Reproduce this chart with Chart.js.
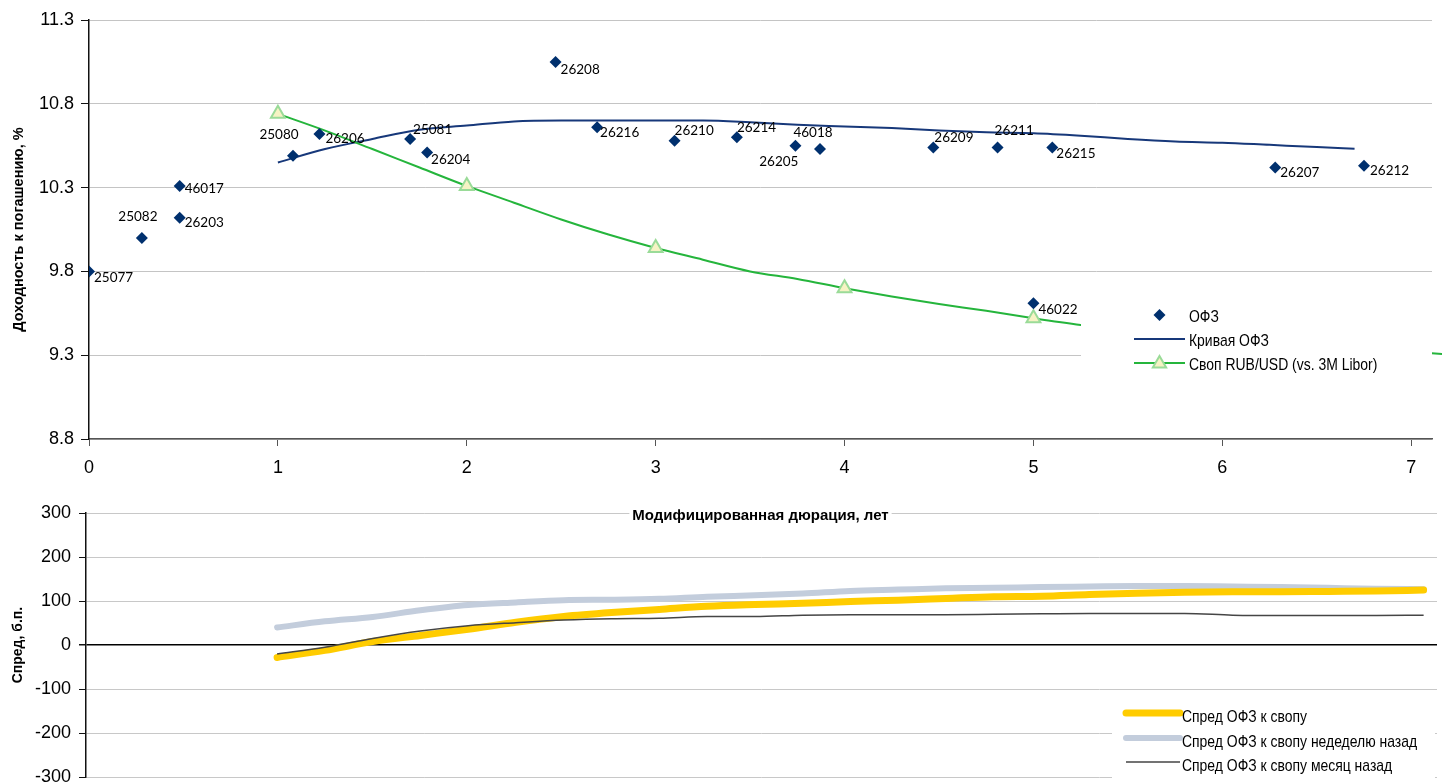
<!DOCTYPE html>
<html>
<head>
<meta charset="utf-8">
<script src="https://cdn.jsdelivr.net/npm/chart.js@4.4.1/dist/chart.umd.min.js"></script>
<style>
  html, body { margin: 0; padding: 0; background: #fff; }
  #wrap { position: relative; width: 1442px; height: 782px; overflow: hidden; }
  #bottomWrap { position: absolute; left: 0; top: 490px; width: 1442px; height: 306px; }
  #topWrap { position: absolute; left: 0; top: 0; width: 1442px; height: 530px; }
</style>
</head>
<body>
<div id="wrap">
  <div id="bottomWrap"><canvas id="spreadChart" width="1442" height="306"></canvas></div>
  <div id="topWrap"><canvas id="yieldChart" width="1442" height="530"></canvas></div>
</div>
<script>
// ---- data ----
const ofzNames = ["25077", "25082", "46017", "26203", "25080", "26206", "25081", "26204", "26208", "26216",
                  "26210", "26214", "26205", "46018", "26209", "26211", "26215", "26207", "26212", "46022"];
const ofzDuration = [0.00, 0.28, 0.48, 0.48, 1.08, 1.22, 1.70, 1.79, 2.47, 2.69,
                     3.10, 3.43, 3.74, 3.87, 4.47, 4.81, 5.10, 6.28, 6.75, 5.00];
const ofzYield = [9.80, 10.00, 10.31, 10.12, 10.49, 10.62, 10.59, 10.51, 11.05, 10.66,
                  10.58, 10.60, 10.55, 10.53, 10.54, 10.54, 10.54, 10.42, 10.43, 9.61];

const curveDuration = [1.00, 1.25, 1.50, 1.75, 2.00, 2.25, 2.50, 2.75, 3.00, 3.25, 3.50, 3.75,
                       4.00, 4.25, 4.50, 4.75, 5.00, 5.25, 5.50, 5.75, 6.00, 6.25, 6.50, 6.70];
const curveYield = [10.45, 10.53, 10.59, 10.645, 10.67, 10.695, 10.70, 10.70, 10.70, 10.70, 10.69, 10.675,
                    10.665, 10.655, 10.64, 10.63, 10.625, 10.61, 10.59, 10.575, 10.568, 10.555, 10.542, 10.532];

const swapDuration = [1.00, 1.25, 1.50, 1.75, 2.00, 2.25, 2.50, 2.75, 3.00, 3.25, 3.50, 3.75,
                      4.00, 4.25, 4.50, 4.75, 5.00, 5.25, 5.50, 6.00, 6.50, 7.00, 7.50];
const swapRate = [10.74, 10.64, 10.53, 10.42, 10.31, 10.21, 10.11, 10.02, 9.94, 9.87, 9.80, 9.755,
                  9.70, 9.65, 9.605, 9.565, 9.52, 9.48, 9.45, 9.40, 9.36, 9.32, 9.28];

const yieldTicks = [8.8, 9.3, 9.8, 10.3, 10.8, 11.3];
const durationTicks = [0, 1, 2, 3, 4, 5, 6, 7];

const spreadDuration = [1.00, 1.25, 1.50, 1.75, 2.00, 2.25, 2.50, 2.75, 3.00, 3.25, 3.50, 3.75, 4.00,
                        4.25, 4.50, 4.75, 5.00, 5.25, 5.50, 5.75, 6.00, 6.25, 6.50, 6.75, 7.00];
const spreadNow = [-28, -12, 8, 22, 36, 52, 65, 74, 81, 88, 92, 95, 99,
                   102, 106, 110, 111, 115, 118, 120, 121, 121, 122, 123, 125];
const spreadWeekAgo = [40, 54, 64, 79, 91, 97, 102, 103, 105, 110, 113, 117, 123,
                       126, 129, 130, 132, 133, 134, 134, 133, 132, 130, 128, 127];
const spreadMonthAgo = [-20, -5, 15, 32, 44, 51, 57, 60, 61, 65, 65, 68, 69,
                        69, 69, 70, 71, 72, 72, 72, 68, 67, 67, 67, 68];
const spreadTicks = [-300, -200, -100, 0, 100, 200, 300];

const topNames = ["ОФЗ", "Кривая ОФЗ", "Своп RUB/USD (vs. 3M Libor)"];
const bottomNames = ["Спред ОФЗ к свопу", "Спред ОФЗ к свопу недеделю назад", "Спред ОФЗ к свопу месяц назад"];
const xTitle = "Модифицированная дюрация, лет";

// label placement next to each bond point: [dx, dy, align]
const labelOffsets = [[5, 6, "left"], [-4, -21, "center"], [5, 3, "left"], [5, 5, "left"], [-14, -21, "center"],
                      [6, 5, "left"], [3, -9, "left"], [4, 7, "left"], [5, 8, "left"], [3, 5, "left"],
                      [0, -10, "left"], [0, -10, "left"], [3, 16, "right"], [-7, -16, "center"], [1, -10, "left"],
                      [-3, -17, "left"], [4, 6, "left"], [5, 5, "left"], [6, 5, "left"], [5, 6, "left"]];

const SANS = "'Liberation Sans', Arial, sans-serif";
Chart.defaults.font.family = SANS;
Chart.defaults.color = "#000";

const zip = (xs, ys) => xs.map((x, i) => ({ x: x, y: ys[i] }));

function drawMarker(ctx, style, x, y, r, fill, stroke) {
  ctx.save();
  ctx.beginPath();
  if (style === "rectRot") {
    ctx.moveTo(x, y - r); ctx.lineTo(x + r, y); ctx.lineTo(x, y + r); ctx.lineTo(x - r, y);
  } else {
    ctx.moveTo(x, y - r); ctx.lineTo(x + r * 0.95, y + r * 0.65); ctx.lineTo(x - r * 0.95, y + r * 0.65);
  }
  ctx.closePath();
  ctx.fillStyle = fill; ctx.fill();
  if (stroke) { ctx.lineWidth = 2; ctx.strokeStyle = stroke; ctx.stroke(); }
  ctx.restore();
}

// narrow text: squeeze horizontally like Arial Narrow
function narrowText(ctx, text, x, y, squeeze) {
  ctx.save();
  ctx.translate(x, y);
  ctx.scale(squeeze, 1);
  ctx.fillText(text, 0, 0);
  ctx.restore();
}

// bond labels
const bondLabels = {
  id: "bondLabels",
  afterDatasetsDraw(chart) {
    const ctx = chart.ctx;
    const meta = chart.getDatasetMeta(0);
    ctx.save();
    ctx.font = "13.5px Lato, 'Noto Sans', sans-serif";
    ctx.fillStyle = "#000";
    ctx.textBaseline = "middle";
    meta.data.forEach((pt, i) => {
      const o = labelOffsets[i];
      ctx.textAlign = o[2];
      ctx.fillText(ofzNames[i], pt.x + o[0], pt.y + o[1]);
    });
    ctx.restore();
  }
};

// white patch behind the x-axis title (it sits over the lower chart's gridline)
const titlePatch = {
  id: "titlePatch",
  beforeDraw(chart) {
    const s = chart.scales.x;
    const ctx = chart.ctx;
    ctx.save();
    ctx.font = "bold 15px " + SANS;
    const w = ctx.measureText(xTitle).width;
    const cx = (s.left + s.right) / 2;
    ctx.fillStyle = "#fff";
    ctx.fillRect(cx - w / 2 - 3, s.bottom - 23, w + 6, 17);
    ctx.restore();
  }
};

// legend drawn inside the plot on a white box
const boxLegend = {
  id: "boxLegend",
  afterDraw(chart, args, opts) {
    const ctx = chart.ctx;
    ctx.save();
    ctx.fillStyle = "#fff";
    ctx.fillRect(opts.box[0], opts.box[1], opts.box[2], opts.box[3]);
    ctx.font = "17px " + SANS;
    ctx.textBaseline = "middle";
    ctx.textAlign = "left";
    chart.data.datasets.forEach((ds, i) => {
      const y = opts.rows[i];
      const x1 = opts.line[0], x2 = opts.line[1];
      if (ds.showLine !== false) {
        ctx.beginPath();
        ctx.lineCap = ds.borderCapStyle || "butt";
        ctx.lineWidth = ds.borderWidth;
        ctx.strokeStyle = ds.borderColor;
        ctx.moveTo(x1, y); ctx.lineTo(x2, y); ctx.stroke();
      }
      if (ds.legendMarker) {
        drawMarker(ctx, ds.pointStyle, (x1 + x2) / 2, y, ds.legendMarker,
                   ds.pointBackgroundColor, ds.pointBorderColor === ds.pointBackgroundColor ? null : ds.pointBorderColor);
      }
      ctx.fillStyle = "#000";
      narrowText(ctx, ds.label, opts.textX, y + opts.textDy, 0.82);
    });
    ctx.restore();
  }
};

new Chart(document.getElementById("yieldChart"), {
  type: "scatter",
  data: {
    datasets: [
      {
        label: topNames[0],
        data: zip(ofzDuration, ofzYield),
        showLine: false,
        pointStyle: "rectRot",
        pointRadius: 6,
        pointBackgroundColor: "#00306E",
        pointBorderColor: "#00306E",
        pointBorderWidth: 0,
        legendMarker: 6,
        order: 0
      },
      {
        label: topNames[1],
        data: zip(curveDuration, curveYield),
        showLine: true,
        borderColor: "#17387A",
        borderWidth: 2,
        pointRadius: 0,
        cubicInterpolationMode: "monotone",
        order: 2
      },
      {
        label: topNames[2],
        data: zip(swapDuration, swapRate),
        showLine: true,
        borderColor: "#25B53C",
        borderWidth: 2,
        cubicInterpolationMode: "monotone",
        pointStyle: "triangle",
        pointRadius: c => (c.raw && Number.isInteger(c.raw.x) ? 8 : 0),
        pointBackgroundColor: "#F6F3C4",
        pointBorderColor: "#9ADB98",
        pointBorderWidth: 2,
        legendMarker: 7,
        clip: false,
        order: 1
      }
    ]
  },
  options: {
    responsive: false,
    animation: false,
    layout: { padding: { top: 20, right: 10, bottom: 0, left: 0 } },
    plugins: {
      legend: { display: false },
      tooltip: { enabled: false },
      boxLegend: { box: [1081, 292, 351, 94], rows: [315, 339, 363], line: [1134, 1185], textX: 1189, textDy: 2 }
    },
    scales: {
      x: {
        type: "linear",
        min: 0,
        max: 7.11,
        afterBuildTicks: s => { s.ticks = durationTicks.map(v => ({ value: v })); },
        afterFit: s => { s.height = 91; },
        border: { color: "#555", width: 1.5 },
        grid: { drawOnChartArea: false, tickLength: 7, tickColor: "#555" },
        ticks: { font: { size: 18 }, padding: 11, color: "#000" },
        title: {
          display: true,
          text: xTitle,
          font: { size: 15, weight: "bold" },
          padding: { top: 0, bottom: 5 }
        }
      },
      y: {
        min: 8.8,
        max: 11.3,
        afterBuildTicks: s => { s.ticks = yieldTicks.map(v => ({ value: v })); },
        afterFit: s => { s.width = 89; },
        border: { color: "#111", width: 1.5 },
        grid: { color: "#C4C4C4", tickLength: 8, tickColor: "#111" },
        ticks: { font: { size: 18 }, padding: 7, color: "#000", callback: v => v.toFixed(1) },
        title: {
          display: true,
          text: "Доходность к погашению, %",
          font: { size: 14.5, weight: "bold" },
          padding: { top: 10, bottom: 0 }
        }
      }
    }
  },
  plugins: [titlePatch, bondLabels, boxLegend]
});

new Chart(document.getElementById("spreadChart"), {
  type: "line",
  data: {
    datasets: [
      {
        label: bottomNames[0],
        data: zip(spreadDuration, spreadNow),
        borderColor: "#FFCC00",
        borderWidth: 7,
        borderCapStyle: "round",
        pointRadius: 0,
        cubicInterpolationMode: "monotone",
        order: 1
      },
      {
        label: bottomNames[1],
        data: zip(spreadDuration, spreadWeekAgo),
        borderColor: "#C3CDDC",
        borderWidth: 6,
        borderCapStyle: "round",
        pointRadius: 0,
        cubicInterpolationMode: "monotone",
        order: 2
      },
      {
        label: bottomNames[2],
        data: zip(spreadDuration, spreadMonthAgo),
        borderColor: "#454545",
        borderWidth: 1.5,
        pointRadius: 0,
        cubicInterpolationMode: "monotone",
        order: 0
      }
    ]
  },
  options: {
    responsive: false,
    animation: false,
    layout: { padding: { top: 23, right: 5, bottom: 5, left: 0 } },
    plugins: {
      legend: { display: false },
      tooltip: { enabled: false },
      boxLegend: { box: [1112, 208, 323, 98], rows: [223, 248, 272], line: [1126, 1180], textX: 1182, textDy: 4 }
    },
    scales: {
      x: { type: "linear", min: 0, max: 7.07, display: false },
      y: {
        min: -300,
        max: 300,
        afterBuildTicks: s => { s.ticks = spreadTicks.map(v => ({ value: v })); },
        afterFit: s => { s.width = 86; },
        border: { color: "#111", width: 1.5 },
        grid: {
          color: c => (c.tick && c.tick.value === 0 ? "#000" : "#C8C8C8"),
          lineWidth: c => (c.tick && c.tick.value === 0 ? 1.5 : 1),
          tickLength: 7,
          tickColor: "#111"
        },
        ticks: { font: { size: 18 }, padding: 8, color: "#000" },
        title: {
          display: true,
          text: "Спред, б.п.",
          font: { size: 14, weight: "bold" },
          padding: { top: 10, bottom: 0 }
        }
      }
    }
  },
  plugins: [boxLegend]
});
</script>
</body>
</html>
